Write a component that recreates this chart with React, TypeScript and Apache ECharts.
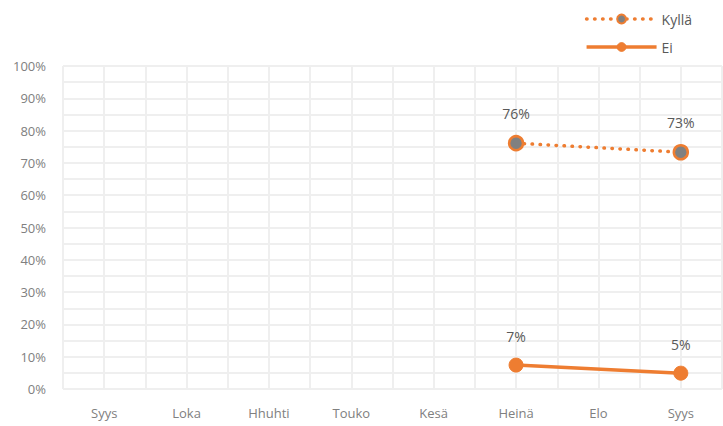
import React, { useEffect, useRef } from "react";
import * as echarts from "echarts";

const categories = ["Syys", "Loka", "Hhuhti", "Touko", "Kesä", "Heinä", "Elo", "Syys"];
const kyllaValues: (number | null)[] = [null, null, null, null, null, 76.1, null, 73.3];
const eiValues: (number | null)[] = [null, null, null, null, null, 7.4, null, 4.9];
const yTicks = [0, 10, 20, 30, 40, 50, 60, 70, 80, 90, 100];

const ORANGE = "#EE7D31";
const GRID = "#efefef";
const FONT = "'Open Sans', 'Noto Sans', sans-serif";

export default function App() {
  const ref = useRef<HTMLDivElement>(null);
  useEffect(() => {
    if (!ref.current) return;
    const chart = echarts.init(ref.current, undefined, { renderer: "svg" });
    const labelFmt = (p: any) => Math.round(p.value) + "%";
    const dotted = { color: ORANGE, width: 3.5, type: [0.5, 7.5], cap: "round" };
    chart.setOption({
      animation: false,
      textStyle: { fontFamily: FONT },
      grid: { left: 63, right: 1, top: 66, bottom: 37, containLabel: false },
      legend: {
        orient: "vertical",
        right: 26,
        top: 7,
        itemWidth: 70,
        itemHeight: 11,
        itemGap: 14,
        textStyle: { color: "#595959", fontSize: 14, fontFamily: FONT },
        data: [
          {
            name: "Kyllä",
            lineStyle: dotted,
            itemStyle: { color: "#808080", borderColor: ORANGE, borderWidth: 2 },
          },
          {
            name: "Ei",
            lineStyle: { color: ORANGE, width: 3.5, type: "solid" },
            itemStyle: { color: ORANGE, borderColor: ORANGE, borderWidth: 1 },
          },
        ],
      },
      xAxis: [
        {
          type: "category",
          data: categories,
          boundaryGap: true,
          axisLine: { show: false },
          axisTick: { show: false },
          splitLine: { show: false },
          axisLabel: { color: "#808080", fontSize: 13, margin: 17, fontFamily: FONT },
        },
        {
          type: "value",
          min: 0,
          max: 16,
          interval: 1,
          show: true,
          position: "bottom",
          axisLine: { show: false },
          axisTick: { show: false },
          axisLabel: { show: false },
          splitLine: { show: true, lineStyle: { color: GRID, width: 2 } },
        },
      ],
      yAxis: {
        type: "value",
        min: 0,
        max: 100,
        interval: 10,
        axisLine: { show: false },
        axisTick: { show: false },
        axisLabel: {
          color: "#808080",
          fontSize: 13,
          margin: 17,
          fontFamily: FONT,
          formatter: (v: number) => (yTicks.includes(v) ? v + "%" : ""),
        },
        splitLine: { show: true, lineStyle: { color: GRID, width: 2 } },
        minorTick: { show: false, splitNumber: 2 },
        minorSplitLine: { show: true, lineStyle: { color: GRID, width: 2 } },
      },
      series: [
        {
          name: "Kyllä",
          type: "line",
          xAxisIndex: 0,
          data: kyllaValues,
          connectNulls: true,
          symbol: "circle",
          symbolSize: 14,
          lineStyle: dotted,
          itemStyle: { color: "#808080", borderColor: ORANGE, borderWidth: 2.5 },
          label: {
            show: true,
            position: "top",
            distance: 14,
            color: "#595959",
            fontSize: 14,
            fontFamily: FONT,
            formatter: labelFmt,
          },
        },
        {
          name: "Ei",
          type: "line",
          xAxisIndex: 0,
          data: eiValues,
          connectNulls: true,
          symbol: "circle",
          symbolSize: 14,
          lineStyle: { color: ORANGE, width: 3.5 },
          itemStyle: { color: ORANGE, borderColor: ORANGE, borderWidth: 1 },
          label: {
            show: true,
            position: "top",
            distance: 14,
            color: "#595959",
            fontSize: 14,
            fontFamily: FONT,
            formatter: labelFmt,
          },
        },
      ],
    });
    return () => chart.dispose();
  }, []);
  return (
    <div
      ref={ref}
      style={{ position: "absolute", left: 0, top: 0, width: 723, height: 426, background: "#fff" }}
    />
  );
}
